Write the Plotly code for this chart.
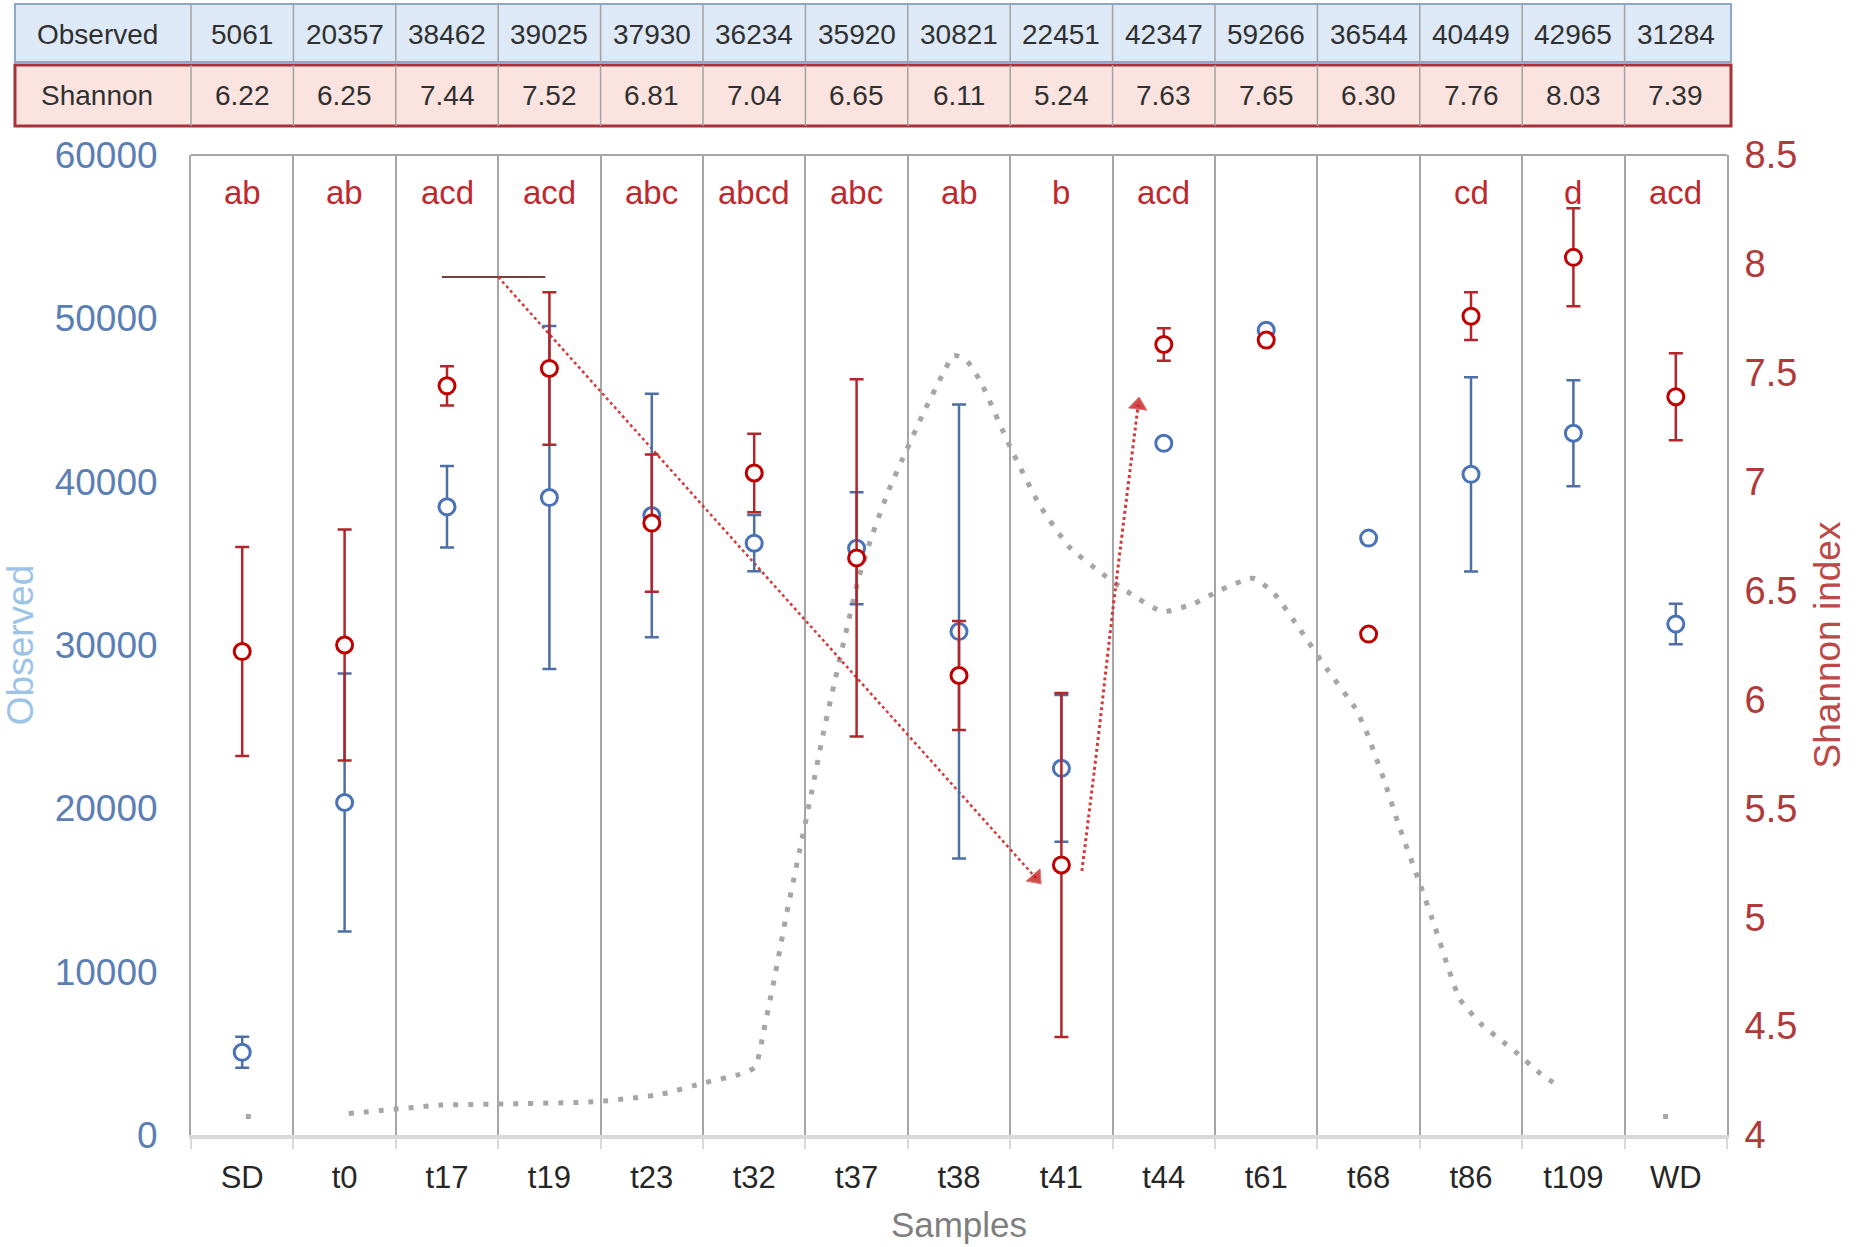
import plotly.graph_objects as go

# ---------------- data ----------------
categories = ['SD', 't0', 't17', 't19', 't23', 't32', 't37', 't38', 't41',
              't44', 't61', 't68', 't86', 't109', 'WD']
letters = ['ab', 'ab', 'acd', 'acd', 'abc', 'abcd', 'abc', 'ab', 'b',
           'acd', '', '', 'cd', 'd', 'acd']

table_observed = ['5061', '20357', '38462', '39025', '37930', '36234', '35920',
                  '30821', '22451', '42347', '59266', '36544', '40449', '42965', '31284']
table_shannon = ['6.22', '6.25', '7.44', '7.52', '6.81', '7.04', '6.65', '6.11',
                 '5.24', '7.63', '7.65', '6.30', '7.76', '8.03', '7.39']

obs_mean = [5061, 20357, 38462, 39025, 37930, 36234, 35920, 30821, 22451,
            42347, 49266, 36544, 40449, 42965, 31284]
obs_err = [950, 7900, 2500, 10500, 7450, 1720, 3430, 13900, 4490,
           None, None, None, 5950, 3250, 1240]

shannon_mean = [6.22, 6.25, 7.44, 7.52, 6.81, 7.04, 6.65, 6.11, 5.24,
                7.63, 7.65, 6.30, 7.76, 8.03, 7.39]
shannon_err = [0.48, 0.53, 0.09, 0.35, 0.315, 0.18, 0.82, 0.25, 0.79,
               0.075, None, None, 0.11, 0.225, 0.2]

# grey dotted trend curve (x in category units, y on Observed axis)
curve_x = [1.04, 1.95, 2.55, 3.46, 4.08, 4.52, 4.86, 5.01, 5.09, 5.21, 5.32, 5.44,
           5.56, 5.67, 5.79, 5.91, 6.02, 6.14, 6.31, 6.49, 6.66, 6.84, 6.95, 7.07,
           7.21, 7.50, 7.79, 8.08, 8.38, 8.64, 8.99, 9.30, 9.55, 9.87, 10.07, 10.33,
           10.60, 10.87, 10.98, 11.15, 11.29, 11.50, 11.65, 11.79, 11.89, 12.10,
           12.33, 12.46, 12.67, 12.82]
curve_y = [1310, 1830, 1900, 2040, 2480, 3210, 3720, 4160, 6280, 10000, 13650, 17300,
           20950, 24450, 27880, 31170, 34090, 36500, 39420, 41970, 44300, 46570, 47740,
           47440, 46130, 42120, 38540, 35980, 34450, 33280, 32040, 32550, 33360, 34090,
           33210, 30950, 28470, 26130, 24670, 21750, 19050, 15400, 12700, 10000, 8320,
           6790, 5620, 4960, 3800, 3140]
end_dots_x = [0.06, 13.9]
end_dots_y = [1130, 1130]

# red annotation arrows (x in category units, y on Observed axis)
bar_line_x = [1.95, 2.96]
bar_line_y = [52530, 52530]
arrow1_x = [2.50, 7.75]
arrow1_y = [52530, 15740]
arrow2_x = [8.20, 8.35, 8.50, 8.75]
arrow2_y = [16160, 23820, 32020, 44690]

x_idx = list(range(len(categories)))

# ---------------- styles ----------------
BLUE = '#4a72b8'
BLUE_ERR = '#4e6fa6'
RED = '#c00000'
RED_ERR = '#b3262b'
GREY = '#a6a6a6'
FONT = 'Liberation Sans, Arial, sans-serif'

fig = go.Figure()

fig.add_trace(go.Scatter(
    x=curve_x, y=curve_y, mode='lines',
    line=dict(color=GREY, width=5, dash='5px,10px', shape='spline', smoothing=0.5),
    hoverinfo='skip'))
fig.add_trace(go.Scatter(
    x=end_dots_x, y=end_dots_y, mode='markers',
    marker=dict(symbol='square', size=5, color=GREY), hoverinfo='skip'))

fig.add_trace(go.Scatter(
    x=bar_line_x, y=bar_line_y, mode='lines',
    line=dict(color='#7a3b3b', width=2), hoverinfo='skip'))
fig.add_trace(go.Scatter(
    x=arrow1_x, y=arrow1_y, mode='lines+markers',
    line=dict(color='#d23a3a', width=2.5, dash='dot'),
    marker=dict(symbol='triangle-up', angleref='previous',
                size=[0] * (len(arrow1_x) - 1) + [16], color='#c00000'),
    hoverinfo='skip'))
fig.add_trace(go.Scatter(
    x=arrow2_x, y=arrow2_y, mode='lines+markers',
    line=dict(color='#d23a3a', width=3, dash='dot', shape='spline'),
    marker=dict(symbol='triangle-up', angleref='previous',
                size=[0] * (len(arrow2_x) - 1) + [16], color='#c00000'),
    hoverinfo='skip'))

fig.add_trace(go.Scatter(
    x=x_idx, y=obs_mean, mode='markers', name='Observed',
    marker=dict(symbol='circle', size=16, color='white',
                line=dict(color=BLUE, width=3)),
    error_y=dict(type='data', array=obs_err, visible=True,
                 color=BLUE_ERR, thickness=2.5, width=7)))

fig.add_trace(go.Scatter(
    x=x_idx, y=shannon_mean, mode='markers', name='Shannon', yaxis='y2',
    marker=dict(symbol='circle', size=16, color='white',
                line=dict(color=RED, width=3)),
    error_y=dict(type='data', array=shannon_err, visible=True,
                 color=RED_ERR, thickness=2.5, width=7)))

# ---------------- significance letters ----------------
annotations = []
for i, t in enumerate(letters):
    if t:
        annotations.append(dict(x=i, xref='x', y=0.962, yref='paper', text=t,
                                showarrow=False, font=dict(family=FONT, size=33, color='#c0282d'),
                                xanchor='center', yanchor='middle'))

# ---------------- table above the plot ----------------
shapes = []
n = len(categories)
tab_left = -0.1146
tab_right = 1.0026
rows = [
    dict(y0=1.0949, y1=1.154, fill='#dde9f6', border='#8da7c6', bw=2,
         label='Observed', values=table_observed, yc=1.1225),
    dict(y0=1.0296, y1=1.0918, fill='#fbe4e0', border='#a8323a', bw=3,
         label='Shannon', values=table_shannon, yc=1.0612),
]
for r in rows:
    shapes.append(dict(type='rect', xref='paper', yref='paper',
                       x0=tab_left, x1=tab_right, y0=r['y0'], y1=r['y1'],
                       fillcolor=r['fill'], line=dict(color=r['border'], width=r['bw']),
                       layer='above'))
    for i in range(n):
        shapes.append(dict(type='line', xref='paper', yref='paper',
                           x0=i / n, x1=i / n, y0=r['y0'], y1=r['y1'],
                           line=dict(color='#a3a3a3', width=1.5), layer='above'))
    annotations.append(dict(x=-0.061, xref='paper', y=r['yc'], yref='paper',
                            text=r['label'], showarrow=False,
                            xanchor='center', yanchor='middle',
                            font=dict(family=FONT, size=28, color='#303030')))
    for i, v in enumerate(r['values']):
        annotations.append(dict(x=i, xref='x', y=r['yc'], yref='paper', text=v,
                                showarrow=False, xanchor='center', yanchor='middle',
                                font=dict(family=FONT, size=28, color='#303030')))

# top frame line of the plot area
shapes.append(dict(type='line', xref='paper', yref='paper', x0=0, x1=1, y0=1, y1=1,
                   line=dict(color=GREY, width=2)))

fig.update_layout(
    width=1870, height=1247,
    margin=dict(l=191, r=143, t=155, b=112, autoexpand=False),
    paper_bgcolor='white', plot_bgcolor='white',
    showlegend=False,
    font=dict(family=FONT),
    shapes=shapes, annotations=annotations,
    xaxis=dict(
        range=[-0.5, 14.5], tickmode='array', tickvals=x_idx, ticktext=categories,
        showgrid=False, zeroline=False, ticks='',
        tickfont=dict(family=FONT, size=31, color='#262626'),
        ticklabelstandoff=12,
        showline=True, linecolor='#d9d9d9', linewidth=4,
        minor=dict(tick0=-0.5, dtick=1, showgrid=True, gridcolor=GREY, gridwidth=2,
                   ticks='outside', ticklen=10, tickcolor='#d9d9d9', tickwidth=2),
        title=dict(text='Samples', font=dict(family=FONT, size=35, color='#7f7f7f'),
                   standoff=19),
        automargin=False),
    yaxis=dict(
        range=[0, 60000], dtick=10000, tickformat='d',
        showgrid=False, zeroline=False, ticks='',
        tickfont=dict(family=FONT, size=37, color='#5b7fb5'),
        ticklabelstandoff=24,
        showline=True, linecolor=GREY, linewidth=2,
        title=dict(text='Observed', font=dict(family=FONT, size=37, color='#9dc3e6'),
                   standoff=12),
        automargin=False),
    yaxis2=dict(
        range=[4, 8.5], dtick=0.5, overlaying='y', side='right',
        showgrid=False, zeroline=False, ticks='',
        tickfont=dict(family=FONT, size=38, color='#b03a3a'),
        ticklabelstandoff=8,
        showline=True, linecolor=GREY, linewidth=2,
        title=dict(text='Shannon index', font=dict(family=FONT, size=37, color='#b94a48'),
                   standoff=18),
        automargin=False),
)

fig.write_html('out.html')
